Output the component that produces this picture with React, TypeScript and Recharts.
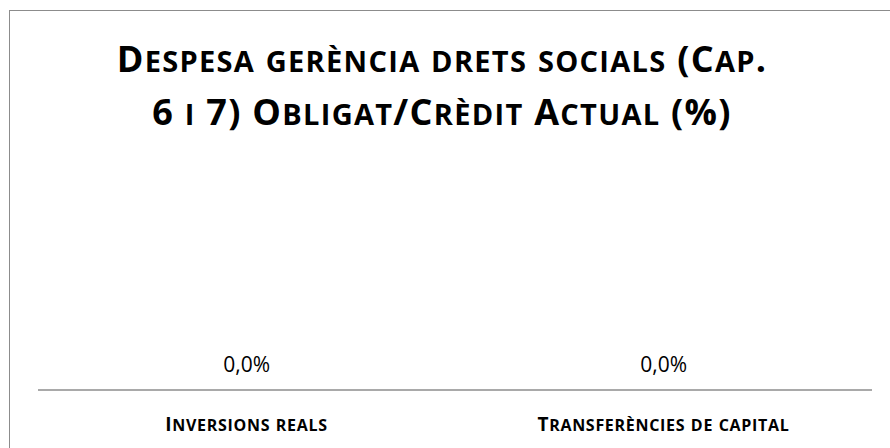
import { BarChart, Bar, XAxis, YAxis } from "recharts";

const categories = ["Inversions reals", "Transferències de capital"];
const values = [0, 0];
const titleLines = ["Despesa gerència drets socials (Cap.", "6 i 7) Obligat/Crèdit Actual (%)"];

const data = categories.map((name, i) => ({ name, value: values[i] }));

const fmt = (v: number) => v.toFixed(1).replace(".", ",") + "%";
const FONT = "'Open Sans', sans-serif";

// fake small caps: lower-case runs are upper-cased at a smaller size
function smallCaps(text: string, big: number, small: number) {
  const runs: { t: string; low: boolean }[] = [];
  for (const ch of text) {
    const low = ch !== ch.toUpperCase();
    const last = runs[runs.length - 1];
    if (last && last.low === low) last.t += ch;
    else runs.push({ t: ch, low });
  }
  return runs.map((r, i) => (
    <tspan key={i} fontSize={r.low ? small : big}>
      {r.low ? r.t.toUpperCase() : r.t}
    </tspan>
  ));
}

const CategoryTick = (props: any) => {
  const { x, y, payload } = props;
  return (
    <text x={x} y={y + 33} textAnchor="middle" fill="#000" fontFamily={FONT} fontWeight={700} letterSpacing={0.7}>
      {smallCaps(payload.value, 19, 16)}
    </text>
  );
};

const ValueLabel = (props: any) => {
  const { x, y, width, value } = props;
  return (
    <text x={x + width / 2} y={y - 17} textAnchor="middle" fill="#000" fontFamily={FONT} fontSize={21}>
      {fmt(Number(value))}
    </text>
  );
};

export default function App() {
  return (
    <div
      style={{
        position: "absolute",
        left: 9,
        top: 10,
        width: 900,
        height: 460,
        border: "1px solid #8c8c8c",
        background: "#fff",
      }}
    >
      <svg width={880} height={150} style={{ position: "absolute", left: 0, top: 0 }}>
        {titleLines.map((l, i) => (
          <text
            key={l}
            x={432}
            y={61 + i * 53}
            textAnchor="middle"
            fill="#000"
            fontFamily={FONT}
            fontWeight={700}
            letterSpacing={1.3}
          >
            {smallCaps(l, 36, 29)}
          </text>
        ))}
      </svg>
      <div style={{ position: "absolute", left: 0, top: 0 }}>
        <BarChart width={880} height={440} data={data} margin={{ top: 180, right: 18, bottom: 11, left: 28 }}>
          <YAxis hide domain={[0, 1]} />
          <XAxis
            dataKey="name"
            axisLine={{ stroke: "#8c8c8c", strokeWidth: 1.5 }}
            tickLine={false}
            height={50}
            tick={<CategoryTick />}
            interval={0}
          />
          <Bar dataKey="value" fill="none" minPointSize={1} isAnimationActive={false} label={<ValueLabel />} />
        </BarChart>
      </div>
    </div>
  );
}
